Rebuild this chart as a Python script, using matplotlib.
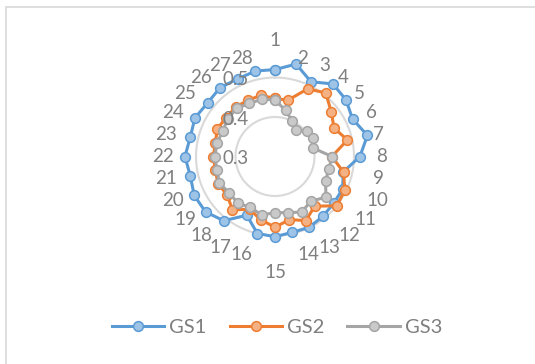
import numpy as np
import matplotlib.pyplot as plt
from matplotlib.patches import Rectangle

plt.rcParams['font.family'] = ['Lato', 'DejaVu Sans']

categories = [str(i) for i in range(1, 29)]

gs1 = [0.520, 0.540, 0.510, 0.535, 0.530, 0.518, 0.540, 0.515, 0.477, 0.490,
       0.490, 0.494, 0.499, 0.497, 0.503, 0.500, 0.465, 0.508, 0.525, 0.527,
       0.520, 0.528, 0.520, 0.525, 0.518, 0.523, 0.518, 0.522]
gs2 = [0.447, 0.446, 0.490, 0.506, 0.482, 0.466, 0.488, 0.444, 0.478, 0.496,
       0.500, 0.461, 0.480, 0.464, 0.479, 0.464, 0.448, 0.473, 0.455, 0.460,
       0.455, 0.456, 0.455, 0.462, 0.458, 0.460, 0.458, 0.459]
gs3 = [0.443, 0.420, 0.400, 0.385, 0.404, 0.406, 0.398, 0.444, 0.440, 0.442,
       0.465, 0.445, 0.456, 0.446, 0.442, 0.452, 0.443, 0.451, 0.448, 0.456,
       0.451, 0.452, 0.451, 0.447, 0.453, 0.456, 0.449, 0.449]

series = [("GS1", gs1, "#5B9BD5", "#9DC3E6"),
          ("GS2", gs2, "#ED7D31", "#F4B183"),
          ("GS3", gs3, "#A5A5A5", "#C9C9C9")]

r_ticks = [0.3, 0.4, 0.5]
r_min, r_max = 0.3, 0.55

W, H = 535, 364
fig = plt.figure(figsize=(W / 100, H / 100), dpi=100)

# light chart-area border (top and left visible)
fig.patches.append(Rectangle((6 / W, -0.1), 1.2, 1 - 7 / H + 0.1, transform=fig.transFigure,
                             fill=False, edgecolor="#D9D9D9", linewidth=1.2))

cx, cy = 275 / W, 1 - 156.5 / H
rad = 98.75
ax = fig.add_axes([cx - rad / W, cy - rad / H, 2 * rad / W, 2 * rad / H], projection="polar")
ax.set_theta_zero_location("N")
ax.set_theta_direction(-1)
ax.set_ylim(r_min, r_max)

n = len(categories)
theta = np.arange(n) * 2 * np.pi / n
tc = np.append(theta, theta[0])

for name, vals, col, fill in series:
    v = np.append(vals, vals[0])
    ax.plot(tc, v, color=col, linewidth=2.2, marker="o", markersize=7,
            markerfacecolor=fill, markeredgecolor=col, markeredgewidth=1.1,
            label=name, clip_on=False)

ax.set_xticks([])
ax.set_yticks([])
ax.grid(False)
ax.spines["polar"].set_visible(False)
ax.patch.set_alpha(0)

circ = np.linspace(0, 2 * np.pi, 300)
for r in r_ticks[1:]:
    ax.plot(circ, np.full_like(circ, r), color="#D9D9D9", linewidth=1.5, zorder=0)

for r in r_ticks:
    ax.annotate(f"{r:.1f}", xy=(0, r), xytext=(-19, -1.5), textcoords="offset points",
                ha="right", va="center", fontsize=13.5, color="#7F7F7F", zorder=5)


def px_to_r(d):
    return r_min + d / rad * (r_max - r_min)


# category labels, anchored like Excel does it
for t, lab in zip(theta, categories):
    s = np.sin(t)
    if abs(s) < 0.01:
        ax.text(t, px_to_r(116), lab, ha="center", va="center", fontsize=13.5, color="#7F7F7F")
    else:
        ax.text(t, px_to_r(101), lab, ha="left" if s > 0 else "right", va="center",
                fontsize=13.5, color="#7F7F7F")

fig.legend(loc="center", bbox_to_anchor=(277 / W, 1 - 327 / H), ncol=3, frameon=False,
           fontsize=14.5, handlelength=2.6, columnspacing=1.15, handletextpad=0.25,
           labelcolor="#7F7F7F")

fig.savefig("out.png", dpi=100)
